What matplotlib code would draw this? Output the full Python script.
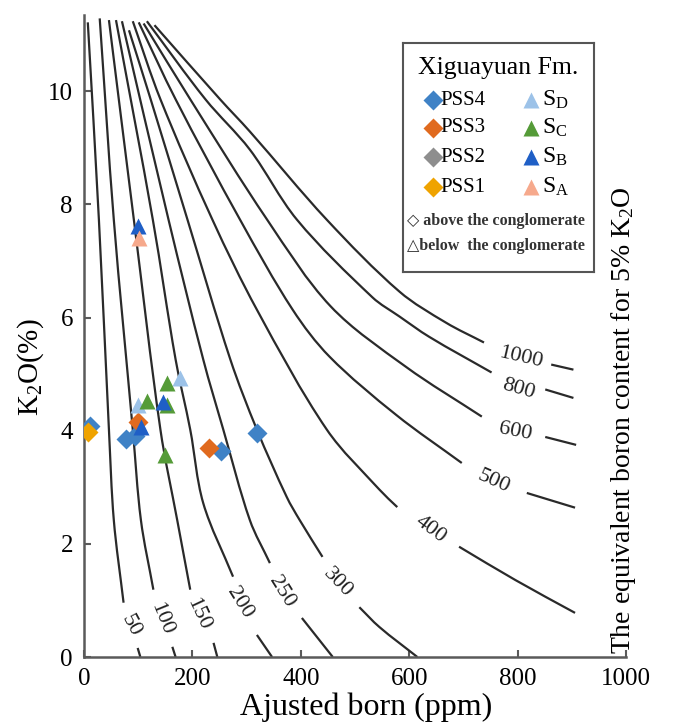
import matplotlib
matplotlib.use('Agg')
import matplotlib.pyplot as plt
from matplotlib.path import Path
from matplotlib.patches import PathPatch
import numpy as np

plt.rcParams['font.family'] = ['Liberation Serif', 'DejaVu Serif']
plt.rcParams['mathtext.fontset'] = 'custom'
plt.rcParams['mathtext.rm'] = 'Liberation Serif'

# equivalent boron curves (adjusted boron ppm, K2O %), nan = gap for the label
levels = [50, 100, 150, 200, 250, 300, 400, 500, 600, 800, 1000]

b50_x = [7, 27.5, 46, 55, 73, np.nan, 99, 104]
b50_k = [11.22, 7.73, 4.02, 2.42, 0.96, np.nan, 0.16, 0]
b100_x = [29, 55, 90, 105, 128, np.nan, 163, 169]
b100_k = [11.29, 7.73, 4.02, 2.42, 1.19, np.nan, 0.18, 0]
b150_x = [46, 92, 141, 172, 196, np.nan, 239, 246]
b150_k = [11.26, 7.73, 4.02, 2.42, 1.19, np.nan, 0.25, 0]
b200_x = [59, 127, 169, 196, 220, 275, np.nan, 319, 347]
b200_k = [11.26, 7.73, 5.26, 4.02, 2.72, 1.42, np.nan, 0.39, 0]
b250_x = [70, 156, 220, 257, 306, 343, np.nan, 402, 459]
b250_k = [11.24, 7.73, 5.26, 4.02, 2.42, 1.66, np.nan, 0.69, 0]
b300_x = [83, 123, 191, 270, 319, 374, 398, 440, np.nan, 508, 545, 615]
b300_k = [11.08, 9.86, 7.73, 5.26, 4.02, 2.83, 2.42, 1.77, np.nan, 0.88, 0.53, 0]
b400_x = [90, 141, 237, 319, 448, 545, 578, np.nan, 692, 796, 906]
b400_k = [11.24, 9.86, 7.73, 6.14, 4.02, 2.96, 2.65, np.nan, 1.95, 1.36, 0.78]
b500_x = [101, 169, 288, 385, 453, 576, 697, np.nan, 817, 906]
b500_k = [11.22, 9.86, 7.73, 6.14, 5.31, 4.28, 3.43, np.nan, 2.90, 2.64]
b600_x = [110, 196, 338, 455, 594, 734, np.nan, 851, 908]
b600_k = [11.2, 9.86, 7.73, 6.2, 5.13, 4.25, np.nan, 3.89, 3.75]
b800_x = [116, 224, 306, 393, 532, 582, 637, 752, np.nan, 851, 903]
b800_k = [11.24, 9.86, 8.97, 7.73, 6.36, 6.02, 5.66, 5.03, np.nan, 4.73, 4.58]
b1000_x = [130, 251, 306, 448, 582, 668, 738, np.nan, 862, 903]
b1000_k = [11.17, 9.86, 9.29, 7.73, 6.46, 5.91, 5.56, np.nan, 5.17, 5.08]

curves_x = [b50_x, b100_x, b150_x, b200_x, b250_x, b300_x, b400_x, b500_x, b600_x, b800_x, b1000_x]
curves_k = [b50_k, b100_k, b150_k, b200_k, b250_k, b300_k, b400_k, b500_k, b600_k, b800_k, b1000_k]

# curve label positions and angles
lab_x = [86, 143, 211, 288, 365, 468, 640, 756, 796, 802, 805]
lab_k = [0.55, 0.68, 0.76, 0.96, 1.15, 1.31, 2.25, 3.10, 3.98, 4.74, 5.29]
lab_rot = [-62, -68, -65, -58, -58, -46, -37, -24, -11, -16, -13]

# samples
pss4_x = [11, 77, 95, 253, 319]
pss4_k = [4.08, 3.86, 3.90, 3.65, 3.96]
pss3_x = [99, 231]
pss3_k = [4.15, 3.70]
pss2_x = []
pss2_k = []
pss1_x = [8]
pss1_k = [3.98]
sd_x = [99, 178]
sd_k = [4.46, 4.94]
sc_x = [116, 154, 154, 150]
sc_k = [4.53, 4.46, 4.85, 3.58]
sb_x = [99, 105, 145]
sb_k = [7.62, 4.07, 4.51]
sa_x = [101]
sa_k = [7.40]

c_pss4, c_pss3, c_pss2, c_pss1 = '#3F82C6', '#E06A1E', '#8E8E8E', '#EFA300'
c_sd, c_sc, c_sb, c_sa = '#9CC2E8', '#559B38', '#1F5FC6', '#F6A98C'


def smooth_path(xs, ks):
    # bezier path through the read points (hermite tangents from neighbours)
    p = np.column_stack([xs, ks]).astype(float)
    sc = np.array([0.545, 56.5])
    t = np.concatenate([[0], np.cumsum(np.hypot(*((np.diff(p, axis=0) * sc).T)))])
    n = len(p)
    m = np.zeros_like(p)
    for i in range(n):
        a, b = max(i - 1, 0), min(i + 1, n - 1)
        m[i] = (p[b] - p[a]) / (t[b] - t[a])
    verts = [p[0]]
    codes = [Path.MOVETO]
    for i in range(n - 1):
        h = t[i + 1] - t[i]
        verts += [p[i] + m[i] * h / 3, p[i + 1] - m[i + 1] * h / 3, p[i + 1]]
        codes += [Path.CURVE4] * 3
    return Path(verts, codes)


fig = plt.figure(figsize=(6.75, 7.26), dpi=100)
ax = fig.add_axes([84 / 675, 69 / 726, 542 / 675, 642 / 726])

for xs, ks in zip(curves_x, curves_k):
    xs = np.array(xs, float)
    ks = np.array(ks, float)
    cut = np.where(np.isnan(xs))[0][0]
    for a, b in [(0, cut), (cut + 1, len(xs))]:
        ax.add_patch(PathPatch(smooth_path(xs[a:b], ks[a:b]), fill=False, ec='#2a2a2a', lw=1.6, zorder=2))
for lv, lx, lk, lr in zip(levels, lab_x, lab_k, lab_rot):
    ax.text(lx, lk, str(lv), rotation=lr, rotation_mode='anchor', ha='center', va='center',
            fontsize=16, color='#222222', zorder=3)

ms_d, ms_t = 10, 11
ax.plot(pss4_x, pss4_k, 'D', color=c_pss4, ms=ms_d, mec='none', zorder=4)
ax.plot(pss3_x, pss3_k, 'D', color=c_pss3, ms=ms_d, mec='none', zorder=4)
ax.plot(pss2_x, pss2_k, 'D', color=c_pss2, ms=ms_d, mec='none', zorder=4)
ax.plot(pss1_x, pss1_k, 'D', color=c_pss1, ms=ms_d, mec='none', zorder=4)
ax.plot(sd_x, sd_k, '^', color=c_sd, ms=ms_t, mec='none', zorder=5)
ax.plot(sc_x, sc_k, '^', color=c_sc, ms=ms_t, mec='none', zorder=5)
ax.plot(sb_x, sb_k, '^', color=c_sb, ms=ms_t, mec='none', zorder=5)
ax.plot(sa_x, sa_k, '^', color=c_sa, ms=ms_t, mec='none', zorder=5)

ax.set_xlim(0, 1000)
ax.set_ylim(0, 11.35)
ax.set_xticks(range(0, 1001, 200))
ax.set_yticks(range(0, 11, 2))
for s in ['top', 'right']:
    ax.spines[s].set_visible(False)
for s in ['left', 'bottom']:
    ax.spines[s].set_color('#5a5a5a')
    ax.spines[s].set_linewidth(1.8)
ax.tick_params(direction='in', length=5, width=1.5, color='#5a5a5a', labelsize=18, pad=8)
ax.set_xlabel('Ajusted born (ppm)', fontsize=23)
ax.xaxis.set_label_coords(0.52, -0.056)
ax.set_ylabel(r'K$\mathregular{_2}$O(%)', fontsize=21)
ax.yaxis.set_label_coords(-0.07, 0.452)

fig.text(623 / 675, 1 - 420 / 726, r'The equivalent boron content for 5% K$\mathregular{_2}$O',
         rotation=90, ha='center', va='center', fontsize=20)

# legend box
lg = fig.add_axes([403 / 675, 1 - 272 / 726, 191 / 675, 229 / 726])
lg.set_xlim(0, 1)
lg.set_ylim(0, 1)
lg.set_xticks([])
lg.set_yticks([])
for s in lg.spines.values():
    s.set_color('#555555')
    s.set_linewidth(1.5)
lg.text(0.5, 0.89, 'Xiguayuan Fm.', ha='center', va='center', fontsize=18.5)
rows_y = [0.751, 0.629, 0.502, 0.371]
left_names = ['PSS4', 'PSS3', 'PSS2', 'PSS1']
left_cols = [c_pss4, c_pss3, c_pss2, c_pss1]
right_names = [r'S$\mathregular{_D}$', r'S$\mathregular{_C}$', r'S$\mathregular{_B}$', r'S$\mathregular{_A}$']
right_cols = [c_sd, c_sc, c_sb, c_sa]
for ry, nm, cl in zip(rows_y, left_names, left_cols):
    lg.plot([0.157], [ry], 'D', color=cl, ms=10, mec='none')
    lg.text(0.195, ry, nm, ha='left', va='center', fontsize=15)
for ry, nm, cl in zip(rows_y, right_names, right_cols):
    lg.plot([0.67], [ry], '^', color=cl, ms=12, mec='none')
    lg.text(0.73, ry, nm, ha='left', va='center', fontsize=17)
lg.text(0.02, 0.223, '\u25c7 above the conglomerate', ha='left', va='center', fontsize=11.5,
        fontweight='bold', color='#333333', family=['Liberation Serif', 'DejaVu Sans'])
lg.text(0.02, 0.114, '\u25b3below  the conglomerate', ha='left', va='center', fontsize=11.5,
        fontweight='bold', color='#333333', family=['Liberation Serif', 'DejaVu Sans'])

fig.savefig('out.png', dpi=100)
